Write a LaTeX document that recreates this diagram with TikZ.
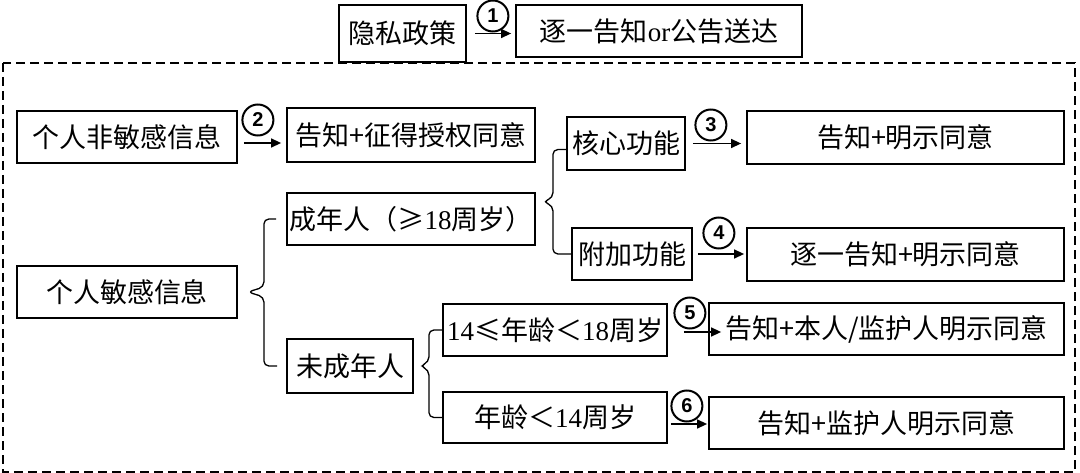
\documentclass[tikz,border=0pt]{standalone}
\usepackage{fontspec}
\setmainfont{Noto Sans CJK SC}
\newfontfamily\numfont{Liberation Sans}
\newfontfamily\latfont{Liberation Serif}
\usetikzlibrary{arrows.meta}
\usetikzlibrary{calc}

\tikzset{
	box/.style={draw,line width=1.8pt,inner sep=0pt,font=\fontsize{27}{31}\selectfont},
	num/.style={draw,circle,line width=2pt,minimum size=31pt,inner sep=0pt,font=\numfont\bfseries\fontsize{20}{20}\selectfont},
	arr/.style={line width=1.4pt,-{Triangle[length=10pt,width=9pt]}},
	brc/.style={line width=1.3pt,rounded corners=5pt},
	dashbox/.style={line width=1.8pt,dash pattern=on 9pt off 5pt}
}

\begin{document}
\begin{tikzpicture}[x=1pt,y=-1pt]
	\useasboundingbox (0,0) rectangle (1080,473);
	\draw[dashbox] (3,63) rectangle (1075,472);

	% top row
	\node[box,minimum width=127pt,minimum height=57pt] (policy) at (402.5,33.5) {隐私政策};
	\node[box,minimum width=286pt,minimum height=52pt] (notice) at (659,31) {逐一告知{\latfont or}公告送达};

	% left column
	\node[box,minimum width=220pt,minimum height=52pt] (nonsen) at (127,137) {个人非敏感信息};
	\node[box,minimum width=220pt,minimum height=52pt] (sen) at (127,292) {个人敏感信息};

	\node[box,minimum width=248pt,minimum height=54pt] (consent) at (411,135) {告知+征得授权同意};
	\node[box,minimum width=248pt,minimum height=52pt] (adult) at (411,219) {成年人（≥{\latfont 18}周岁）};
	\node[box,minimum width=126pt,minimum height=54pt] (minor) at (350,366) {未成年人};

	\node[box,minimum width=118pt,minimum height=53pt] (core) at (626,143.5) {核心功能};
	\node[box,minimum width=120pt,minimum height=52pt] (extra) at (632,254) {附加功能};
	\node[box,minimum width=224pt,minimum height=52pt] (teen) at (555,330) {{\latfont 14}≤年龄＜{\latfont 18}周岁};
	\node[box,minimum width=224pt,minimum height=51pt] (child) at (555,417.5) {年龄＜{\latfont 14}周岁};

	% right column
	\node[box,minimum width=317pt,minimum height=53pt] (r3) at (905.5,137.5) {告知+明示同意\hspace{40pt}};
	\node[box,minimum width=317pt,minimum height=53pt] (r4) at (905.5,254.5) {逐一告知+明示同意\hspace{30pt}};
	\node[box,minimum width=355pt,minimum height=52pt] (r5) at (886.5,329) {告知+本人/监护人明示同意};
	\node[box,minimum width=355pt,minimum height=52pt] (r6) at (886.5,423) {告知+监护人明示同意\hspace{40pt}};

	% arrows with numbers
	\draw[arr] ($(policy.east)+(8,0)$) coordinate (s1) -- ($(s1 -| notice.west)+(-4,0)$);
	\node[num] (n1) at ($(s1)+(18,-17.5)$) {1};
	\draw[arr] ($(nonsen.east)+(6,6)$) coordinate (s2) -- ($(s2 -| consent.west)+(-5,0)$);
	\node[num] (n2) at ($(s2)+(14,-23)$) {2};
	\draw[arr] ($(core.east)+(7,0)$) coordinate (s3) -- ($(s3 -| r3.west)+(-5,0)$);
	\node[num] (n3) at ($(s3)+(18,-18.5)$) {3};
	\draw[arr] ($(extra.east)+(5,0)$) coordinate (s4) -- ($(s4 -| r4.west)+(-2,0)$);
	\node[num] (n4) at ($(s4)+(21,-21)$) {4};
	\draw[arr] ($(teen.east)+(16,2)$) coordinate (s5) -- ($(s5 -| r5.west)+(13,0)$);
	\node[num] (n5) at ($(s5)+(6,-19)$) {5};
	\draw[arr] ($(child.east)+(3,6.5)$) coordinate (s6) -- ($(s6 -| r6.west)+(-1,0)$);
	\node[num] (n6) at ($(s6)+(16,-18)$) {6};

	% braces
	\draw[brc] ($(adult.west)+(-10,0)$) -| ($(sen.east)+(26,-5)$) -- ($(sen.east)+(10,0)$) -- ($(sen.east)+(26,5)$) |- ($(minor.west)+(-9,0)$);
	\draw[brc] (teen.west) -| ($(minor.east)+(15,-4)$) -- ($(minor.east)+(6,0)$) -- ($(minor.east)+(15,4)$) |- (child.west);
	\coordinate (m3) at ($(core.west)!0.5!(extra.west)+(0,3)$);
	\draw[brc] ($(core.west)+(0,6)$) -| ($(adult.east |- m3)+(17,-4)$) -- ($(adult.east |- m3)+(7,0)$) -- ($(adult.east |- m3)+(17,4)$) |- (extra.west);
\end{tikzpicture}
\end{document}
